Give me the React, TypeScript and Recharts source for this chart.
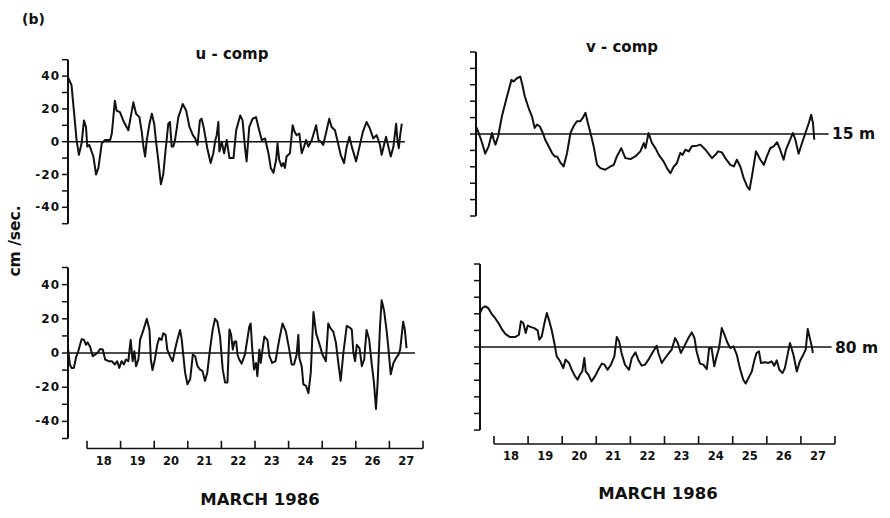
import { LineChart, Line, XAxis, YAxis, ReferenceLine } from 'recharts';

// current meter records, March 1986 (time in March days, speed in cm/s)
const u15 = [[17.44,39],[17.54,34.5],[17.61,19],[17.69,1],[17.76,-8],[17.84,-1],[17.91,13],[17.97,9],[18.01,-3],[18.07,-2],[18.19,-9],[18.27,-20],[18.34,-16],[18.44,-1],[18.54,1],[18.69,1],[18.74,5],[18.83,25],[18.88,19],[18.98,18],[19.10,12],[19.23,7],[19.38,24],[19.46,17],[19.56,15],[19.63,6],[19.68,-3],[19.73,-9],[19.78,1],[19.86,11],[19.93,17],[20.00,11],[20.05,1],[20.12,-11],[20.20,-26],[20.27,-20],[20.34,-5],[20.42,11],[20.47,12],[20.52,-3],[20.57,-3],[20.62,1],[20.72,15],[20.85,23],[20.95,19],[21.05,9],[21.15,4],[21.22,2],[21.29,-2],[21.36,13],[21.41,14],[21.48,8],[21.58,-4],[21.68,-13],[21.76,-7],[21.82,1],[21.86,4],[21.91,12],[21.94,-6],[22.01,0],[22.08,-7],[22.16,1],[22.24,-10],[22.36,-10],[22.44,7],[22.56,16],[22.63,13],[22.70,-3],[22.75,-12],[22.83,9],[22.93,14],[23.03,15],[23.10,9],[23.20,1],[23.30,2],[23.40,-7],[23.47,-16],[23.55,-19],[23.63,-11],[23.67,-1],[23.72,-11],[23.79,-15],[23.84,-13],[23.89,-16],[23.94,-9],[24.04,-7],[24.12,10],[24.18,6],[24.24,4],[24.32,5],[24.39,-7],[24.46,-3],[24.52,1],[24.59,-3],[24.69,1],[24.82,10],[24.89,1],[24.96,0],[25.03,-2],[25.11,5],[25.21,14],[25.28,9],[25.38,7],[25.45,1],[25.55,-8],[25.65,-13],[25.73,-3],[25.81,3],[25.88,-3],[26.01,-12],[26.11,-3],[26.21,6],[26.32,12],[26.42,8],[26.52,2],[26.62,4],[26.72,-2],[26.77,-8],[26.84,-2],[26.90,3],[26.97,-3],[27.04,-9],[27.12,-3],[27.20,11],[27.24,1],[27.28,-4],[27.32,4],[27.37,11]];

const v15 = [[17.59,4.7],[17.67,0.6],[17.77,-5.5],[17.86,-12],[17.96,-7.5],[18.06,0.6],[18.11,-3.5],[18.16,-6.5],[18.24,-1.4],[18.35,10.8],[18.50,23],[18.63,33],[18.69,32],[18.79,34],[18.89,35],[18.96,29],[19.02,23],[19.13,16],[19.23,10.8],[19.31,3.7],[19.38,5.7],[19.46,4.7],[19.55,0.6],[19.62,-3.5],[19.72,-7.5],[19.82,-11.6],[19.90,-13.7],[19.97,-13.7],[20.06,-17.3],[20.16,-19.8],[20.26,-11.6],[20.36,0.6],[20.45,4.7],[20.55,7.8],[20.65,7.8],[20.72,9.8],[20.80,12.9],[20.87,6.7],[20.96,-0.4],[21.04,-7.5],[21.14,-18.8],[21.24,-20.8],[21.38,-21.8],[21.53,-19.8],[21.63,-18.8],[21.72,-13.7],[21.85,-8.6],[21.97,-14.7],[22.12,-15.3],[22.26,-13.7],[22.41,-10.6],[22.51,-5.5],[22.56,-8.6],[22.65,0.6],[22.75,-5.5],[22.85,-8.6],[22.95,-12.7],[23.09,-16.7],[23.19,-20.8],[23.29,-23.9],[23.39,-19.8],[23.48,-17.8],[23.58,-11.6],[23.65,-12.7],[23.73,-9.6],[23.83,-10.6],[23.92,-7.5],[24.07,-7.1],[24.17,-6.5],[24.32,-9.6],[24.51,-14.7],[24.61,-12.7],[24.69,-10.6],[24.80,-11.2],[24.90,-14.7],[25.05,-18.8],[25.15,-19.8],[25.24,-15.7],[25.34,-19.8],[25.44,-26.9],[25.54,-32],[25.61,-34],[25.68,-26],[25.80,-10.6],[25.93,-15.7],[26.03,-18.8],[26.12,-13.7],[26.22,-8.6],[26.32,-7.5],[26.42,-5],[26.51,-9.6],[26.61,-15.7],[26.68,-9.6],[26.76,-5.5],[26.88,0.6],[26.95,-3],[27.05,-12],[27.15,-5.5],[27.25,0.6],[27.35,6.7],[27.42,11.8],[27.47,6.7],[27.51,-3.5]];

const u80 = [[17.44,2],[17.49,-6.7],[17.54,-8.7],[17.61,-8.7],[17.67,-2.9],[17.74,1],[17.84,8],[17.91,7.7],[17.97,4.8],[18.02,6.2],[18.09,3.8],[18.17,-1.9],[18.24,-1],[18.31,0],[18.39,2.3],[18.47,2],[18.54,-3.8],[18.64,-4.8],[18.74,-4.8],[18.83,-6.7],[18.90,-4.8],[18.96,-8.7],[19.03,-4.8],[19.10,-6.7],[19.16,-3.8],[19.23,-4.8],[19.30,7.7],[19.36,-4.8],[19.41,1],[19.46,-7.7],[19.53,-3.8],[19.58,7.7],[19.68,13.5],[19.78,20],[19.86,13.5],[19.90,-3.8],[19.95,-10],[20.02,-3.8],[20.09,4.8],[20.15,8.7],[20.22,7.7],[20.27,11.5],[20.34,10.6],[20.39,2],[20.47,-1.9],[20.55,-4.8],[20.62,2],[20.69,7.7],[20.77,13.5],[20.82,7.7],[20.87,-1.9],[20.92,-11.5],[20.99,-18.3],[21.07,-15.4],[21.15,-1],[21.22,-1.9],[21.29,-7.7],[21.36,-9.6],[21.44,-10.6],[21.51,-16.3],[21.58,-11.5],[21.66,2],[21.74,13.5],[21.81,20],[21.88,18.3],[21.96,9.6],[22.04,-9.6],[22.11,-17.3],[22.18,-17.3],[22.24,13.8],[22.29,10.6],[22.34,2],[22.39,6.7],[22.44,6.7],[22.48,-1],[22.53,-3.8],[22.60,-6.2],[22.70,-1],[22.77,7.7],[22.83,15.4],[22.87,17.3],[22.92,2],[22.97,-9.6],[23.03,-5.8],[23.07,-13.5],[23.13,2],[23.17,-5.8],[23.23,2.9],[23.28,9.6],[23.37,7.7],[23.43,-1.9],[23.51,-5.8],[23.61,-4.8],[23.72,7.7],[23.82,17.3],[23.92,12.5],[24.02,2],[24.09,-6.7],[24.16,-6.7],[24.24,-1],[24.29,10.6],[24.32,-2.9],[24.39,-7.7],[24.44,-18.3],[24.52,-19.2],[24.59,-23.5],[24.66,-11.5],[24.74,24],[24.82,11.5],[24.91,5.8],[25.01,-1],[25.11,-4.8],[25.18,17.3],[25.25,14.4],[25.33,12.5],[25.41,5.8],[25.48,-5.8],[25.55,-16.3],[25.63,0],[25.73,15.8],[25.81,15],[25.88,13.8],[25.93,0],[25.98,-4.8],[26.03,4.8],[26.11,2.9],[26.18,-7.7],[26.25,-3.8],[26.32,13.5],[26.40,7.7],[26.47,-5.8],[26.54,-17.3],[26.60,-32.7],[26.65,-17.3],[26.72,15.4],[26.77,30.8],[26.84,25],[26.92,12.5],[26.97,2.9],[27.04,-12.5],[27.12,-5.8],[27.20,-2.9],[27.27,-1],[27.32,2],[27.41,18.3],[27.46,13.5],[27.51,2.9]];

const v80 = [[17.59,20.5],[17.66,23.5],[17.74,24.5],[17.83,23.5],[17.93,20],[18.03,17.5],[18.13,14.5],[18.23,10.8],[18.34,7.8],[18.47,6],[18.62,6],[18.73,7.4],[18.79,15.5],[18.86,14.5],[18.93,8.4],[18.99,12.9],[19.09,12],[19.18,11.4],[19.28,10],[19.33,4.4],[19.40,6.4],[19.48,14.5],[19.55,20.5],[19.61,16.5],[19.69,10.4],[19.77,2.4],[19.84,-5.6],[19.94,-8.6],[20.03,-12.7],[20.10,-7.6],[20.20,-9.6],[20.28,-13.7],[20.38,-17.7],[20.45,-19.7],[20.52,-16.7],[20.59,-14.7],[20.65,-6.6],[20.69,-14.7],[20.77,-16.7],[20.86,-20.7],[20.96,-17.7],[21.06,-13.7],[21.16,-10],[21.24,-10.6],[21.33,-13.7],[21.43,-10.6],[21.53,-5.6],[21.60,6],[21.67,3.4],[21.74,-3.6],[21.84,-10.6],[21.96,-13.7],[22.04,-6.6],[22.15,-3.2],[22.23,-7.6],[22.33,-11.2],[22.43,-10.6],[22.53,-7.6],[22.64,-3.6],[22.77,0.8],[22.82,-3.6],[22.92,-9.6],[23.02,-6.6],[23.13,-3.6],[23.21,-1.6],[23.31,5.4],[23.39,2.4],[23.48,-3.6],[23.58,0.4],[23.70,5.4],[23.80,8.8],[23.88,5.4],[23.94,-2.6],[24.04,-10],[24.14,-10.6],[24.24,-13.3],[24.31,-0.6],[24.38,-0.6],[24.46,-11.6],[24.53,-5.6],[24.60,-0.6],[24.68,11.4],[24.76,7.4],[24.85,2.4],[24.93,-0.6],[25.02,0.4],[25.12,-4.6],[25.21,-12.7],[25.31,-19.7],[25.38,-22],[25.46,-18.7],[25.56,-14.7],[25.64,-7.6],[25.70,-3.6],[25.77,-2.6],[25.83,-9.6],[25.95,-9.2],[26.05,-9.6],[26.14,-8.6],[26.22,-11.2],[26.29,-8],[26.37,-13.7],[26.46,-15.7],[26.53,-12.7],[26.61,-4.6],[26.68,2.4],[26.78,-4.6],[26.88,-14.7],[26.97,-8.6],[27.07,-4.6],[27.14,-1.6],[27.20,10.8],[27.25,6.4],[27.32,0.4],[27.35,-3.6]];

const days = [18, 19, 20, 21, 22, 23, 24, 25, 26, 27];
const dayEdges = [18, 19, 20, 21, 22, 23, 24, 25, 26, 27, 28];
const yTicks = [-50, -40, -30, -20, -10, 0, 10, 20, 30, 40, 50];
const yLabels = [-40, -20, 0, 20, 40];

const W = 890;
const H = 518;
const INK = '#111';
const FONT = '"DejaVu Sans", "Liberation Sans", sans-serif';

const LeftTick = (props: any) => {
  const { x, y, payload } = props;
  if (!yLabels.includes(payload.value)) return <g />;
  return (
    <text x={x} y={y} dy={4} textAnchor="end" fill={INK} fontSize={12} fontWeight={700} fontFamily={FONT} letterSpacing={1}>
      {payload.value}
    </text>
  );
};
const NoTick = () => <g />;

type PanelProps = {
  series: number[][];
  xStart: number;
  yMin: number;
  plot: { left: number; right: number; top: number; bottom: number };
  zeroEnd: number;
  labels: boolean;
  bracket: boolean;
  tickU?: number;
};

function Panel({ series, xStart, yMin, plot, zeroEnd, labels, bracket, tickU = 4.5 }: PanelProps) {
  const data = series.map(([t, v]) => ({ t, v }));
  const xh = bracket ? 30 : 0;
  return (
    <div style={{ position: 'absolute', left: 0, top: 0 }}>
      <LineChart
        width={W}
        height={H}
        data={data}
        margin={{ top: plot.top, left: plot.left - 30, right: W - plot.right, bottom: H - plot.bottom - xh }}
      >
        <XAxis
          type="number"
          dataKey="t"
          domain={[xStart, 28]}
          allowDataOverflow
          hide={!bracket}
          height={30}
          ticks={days.map((d) => d + 0.5)}
          tickFormatter={(v: number) => String(Math.round(v - 0.5))}
          tickLine={false}
          axisLine={false}
          tickSize={6}
          tickMargin={2}
          interval={0}
          tick={{ fill: INK, fontSize: 11.5, fontWeight: 700, fontFamily: FONT }}
        />
        <YAxis
          type="number"
          domain={[yMin, 50]}
          allowDataOverflow
          ticks={yTicks}
          interval={0}
          width={30}
          axisLine={false}
          tickLine={{ stroke: INK, strokeWidth: 1.5 }}
          tickSize={6}
          tickMargin={2}
          tick={labels ? LeftTick : NoTick}
        />
        <ReferenceLine segment={[{ x: xStart, y: -50 }, { x: xStart, y: 50 }]} stroke={INK} strokeWidth={2} ifOverflow="visible" />
        <ReferenceLine segment={[{ x: xStart, y: 0 }, { x: zeroEnd, y: 0 }]} stroke={INK} strokeWidth={1.6} ifOverflow="visible" />
        {bracket && (
          <ReferenceLine segment={[{ x: 18, y: yMin }, { x: 28, y: yMin }]} stroke={INK} strokeWidth={1.6} ifOverflow="visible" />
        )}
        {bracket &&
          dayEdges.map((d) => (
            <ReferenceLine
              key={d}
              segment={[{ x: d, y: yMin }, { x: d, y: yMin + tickU }]}
              stroke={INK}
              strokeWidth={1.6}
              ifOverflow="visible"
            />
          ))}
        <Line
          type="linear"
          dataKey="v"
          stroke={INK}
          strokeWidth={2}
          strokeLinejoin="round"
          dot={false}
          activeDot={false}
          isAnimationActive={false}
        />
      </LineChart>
    </div>
  );
}

export default function App() {
  const txt = { fill: INK, fontWeight: 700, fontFamily: FONT } as const;
  return (
    <div style={{ position: 'absolute', left: 0, top: 0, width: W, height: H, background: '#fff', overflow: 'hidden' }}>
      <Panel series={u15} xStart={17.435} yMin={-50} plot={{ left: 68, right: 423, top: 59.7, bottom: 223.7 }} zeroEnd={27.46} labels bracket={false} />
      <Panel series={v15} xStart={17.59} yMin={-50} plot={{ left: 476, right: 831, top: 52, bottom: 216 }} zeroEnd={27.93} labels={false} bracket={false} />
      <Panel series={u80} xStart={17.435} yMin={-55.85} plot={{ left: 68, right: 423, top: 267.5, bottom: 448.5 }} zeroEnd={27.76} labels bracket tickU={4.5} />
      <Panel series={v80} xStart={17.59} yMin={-58.4} plot={{ left: 480, right: 835, top: 264, bottom: 444 }} zeroEnd={27.9} labels={false} bracket tickU={4.8} />
      <svg width={W} height={H} style={{ position: 'absolute', left: 0, top: 0, pointerEvents: 'none' }}>
        <text x={22} y={24} fontSize={14} {...txt}>(b)</text>
        <text x={232} y={59} fontSize={15} textAnchor="middle" {...txt}>u - comp</text>
        <text x={622} y={52} fontSize={15} textAnchor="middle" {...txt}>v - comp</text>
        <text x={832} y={139} fontSize={15.5} {...txt}>15 m</text>
        <text x={835} y={353} fontSize={15.5} {...txt}>80 m</text>
        <text x={260} y={505} fontSize={16.5} textAnchor="middle" {...txt}>MARCH 1986</text>
        <text x={658} y={499} fontSize={16.5} textAnchor="middle" {...txt}>MARCH 1986</text>
        <text x={20} y={241} fontSize={15.5} textAnchor="middle" transform="rotate(-90 20 241)" {...txt}>cm /sec.</text>
      </svg>
    </div>
  );
}
